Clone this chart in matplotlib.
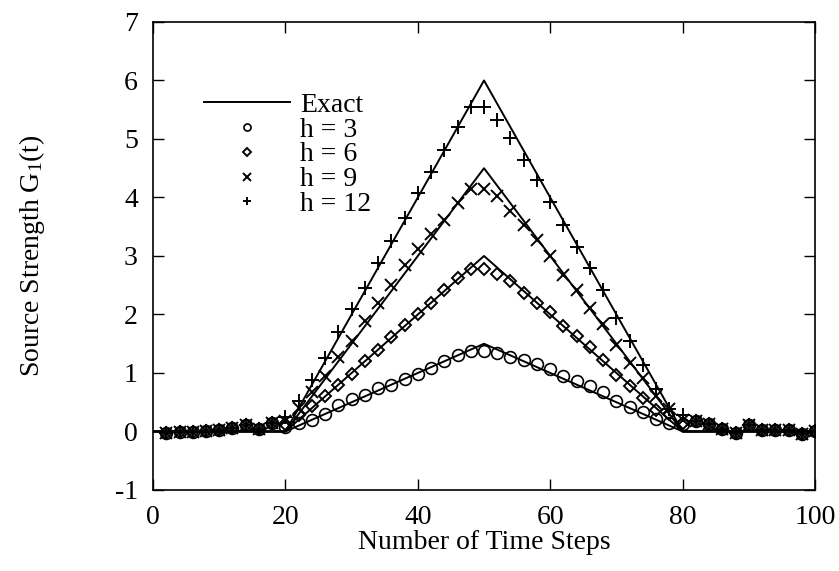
import numpy as np
import matplotlib.pyplot as plt

plt.rcParams['font.family'] = ['Liberation Serif', 'DejaVu Serif']
plt.rcParams['mathtext.fontset'] = 'custom'
plt.rcParams['mathtext.rm'] = 'Liberation Serif'
plt.rcParams['mathtext.it'] = 'Liberation Serif'
plt.rcParams['axes.unicode_minus'] = False

# time steps where the computed values are plotted
steps = np.arange(2, 101, 2)

# noisy part outside the source pulse (all four runs sit on top of each other)
left_noise = [-0.02, -0.01, -0.01, 0.0, 0.03, 0.06, 0.11, 0.05, 0.15]
right_noise = [0.18, 0.13, 0.05, -0.03, 0.11, 0.02, 0.02, 0.02, -0.05, 0.0]

# values for steps 20..80
h3_mid = [0.08, 0.15, 0.2, 0.3, 0.45, 0.55, 0.62, 0.75, 0.8, 0.9, 0.98, 1.08, 1.2, 1.3, 1.38, 1.38,
          1.35, 1.28, 1.22, 1.15, 1.06, 0.95, 0.87, 0.78, 0.67, 0.52, 0.42, 0.34, 0.22, 0.15, 0.12]
h6_mid = [0.12, 0.28, 0.43, 0.6, 0.8, 0.98, 1.2, 1.4, 1.62, 1.82, 2.0, 2.2, 2.42, 2.62, 2.78, 2.78,
          2.7, 2.57, 2.37, 2.2, 2.04, 1.8, 1.63, 1.45, 1.23, 0.97, 0.77, 0.57, 0.36, 0.3, 0.15]
h9_mid = [0.18, 0.4, 0.68, 0.95, 1.28, 1.55, 1.88, 2.2, 2.5, 2.85, 3.12, 3.38, 3.62, 3.9, 4.15, 4.15,
          4.02, 3.77, 3.53, 3.28, 3.0, 2.68, 2.42, 2.11, 1.83, 1.47, 1.17, 0.92, 0.6, 0.38, 0.2]
h12_mid = [0.25, 0.52, 0.88, 1.25, 1.7, 2.1, 2.45, 2.88, 3.25, 3.65, 4.07, 4.44, 4.82, 5.2, 5.55, 5.55,
           5.33, 5.02, 4.64, 4.3, 3.93, 3.53, 3.16, 2.79, 2.42, 1.94, 1.54, 1.14, 0.72, 0.38, 0.28]

h3 = left_noise + h3_mid + right_noise
h6 = left_noise + h6_mid + right_noise
h9 = left_noise + h9_mid + right_noise
h12 = left_noise + h12_mid + right_noise

# exact source strength: triangle pulse
exact_x = [0, 20, 50, 80, 100]
exact_peaks = [1.5, 3.0, 4.5, 6.0]

fig = plt.figure(figsize=(8.39, 5.71), dpi=100)
ax = fig.add_axes([0.1824, 0.1419, 0.789, 0.8196])

for i, pk in enumerate(exact_peaks):
    ax.plot(exact_x, [0, 0, pk, 0, 0], color='black', lw=1.4,
            label='Exact' if i == 0 else None)

ax.plot(steps, h3, ls='none', marker='o', ms=8.5, mfc='none', mec='black', mew=1.2, label='h = 3')
ax.plot(steps, h6, ls='none', marker='D', ms=6.5, mfc='none', mec='black', mew=1.4, label='h = 6')
ax.plot(steps, h9, ls='none', marker='x', ms=8.5, color='black', mew=1.4, label='h = 9')
ax.plot(steps, h12, ls='none', marker='+', ms=9.5, color='black', mew=1.4, label='h = 12')

ax.set_xlim(0, 100)
ax.set_ylim(-1, 7)
ax.set_xticks([0, 20, 40, 60, 80, 100])
ax.set_yticks(range(-1, 8))
ax.tick_params(direction='in', length=8, width=1, top=True, right=True, labelsize=20)
ax.tick_params(axis='x', pad=11)
ax.tick_params(axis='y', pad=11)
for s in ax.spines.values():
    s.set_linewidth(1.2)

ax.set_xlabel('Number of Time Steps', fontsize=20, labelpad=0)
ax.set_ylabel('Source Strength G$_1$(t)', fontsize=20)
ax.yaxis.set_label_coords(-0.16, 0.5)

ax.legend(loc='upper left', bbox_to_anchor=(0.077, 0.85), frameon=False, fontsize=20,
          handlelength=3.1, handletextpad=0.35, labelspacing=-0.02, markerscale=0.6,
          borderaxespad=0, borderpad=0)

fig.savefig('out.png', dpi=100)
